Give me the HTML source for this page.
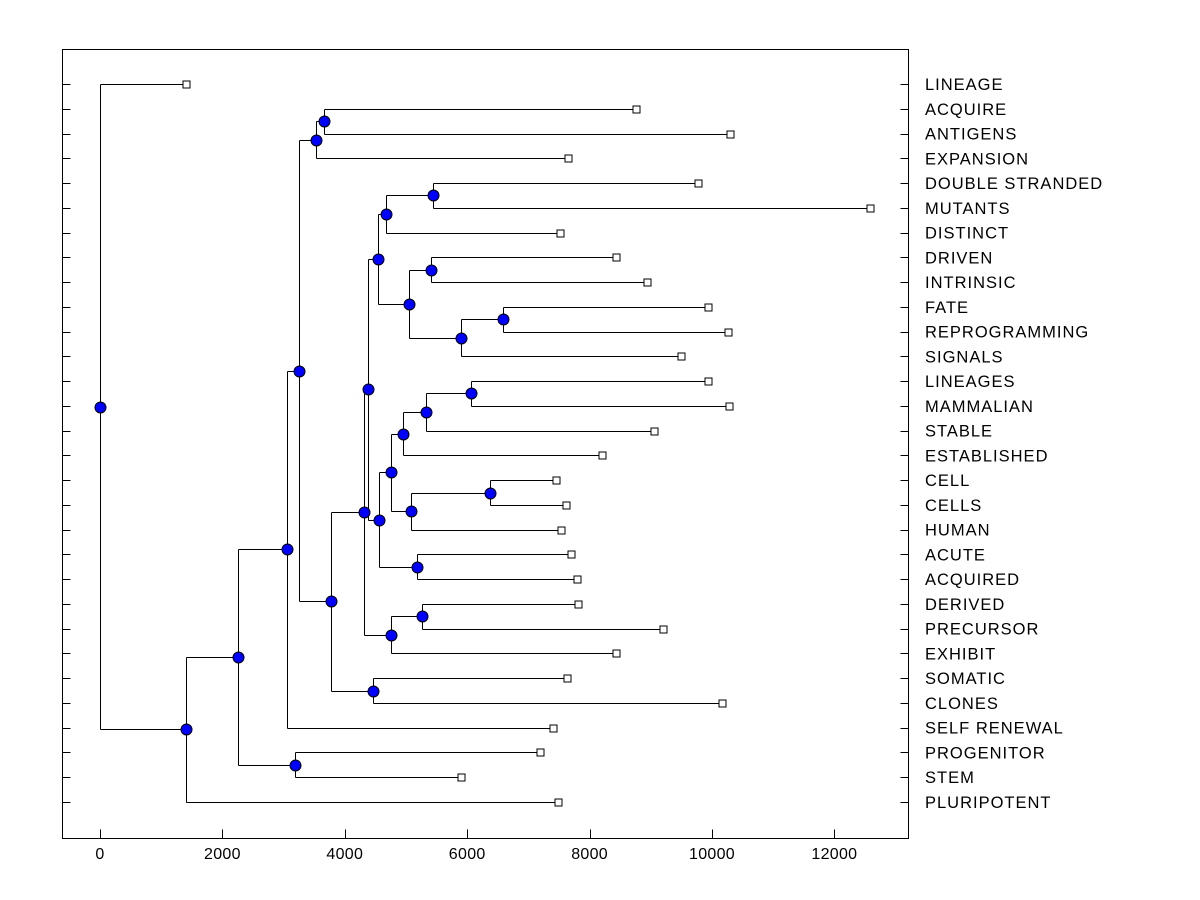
<!DOCTYPE html>
<html><head><meta charset="utf-8"><style>
body{margin:0;background:#fff}
svg{display:block;font-family:"Liberation Sans",Arial,sans-serif}
</style></head><body>
<svg id="chart" width="1200" height="900" xmlns="http://www.w3.org/2000/svg"></svg>
<script>
const leafNames=["LINEAGE","ACQUIRE","ANTIGENS","EXPANSION","DOUBLE STRANDED","MUTANTS","DISTINCT","DRIVEN","INTRINSIC","FATE","REPROGRAMMING","SIGNALS","LINEAGES","MAMMALIAN","STABLE","ESTABLISHED","CELL","CELLS","HUMAN","ACUTE","ACQUIRED","DERIVED","PRECURSOR","EXHIBIT","SOMATIC","CLONES","SELF RENEWAL","PROGENITOR","STEM","PLURIPOTENT"];
const leafValues=[1405,8758,10294,7647,9771,12582,7516,8431,8938,9935,10261,9493,9935,10278,9052,8203,7451,7614,7533,7696,7794,7810,9199,8431,7631,10163,7402,7190,5899,7484];
const nodeIds=["root","A","B","C","D","E","F","H","G","I","L","K","O","Q","P","R","S","T","M","U","W","Y","Z","X","AA","V","N","AB","J"];
const nodeHeights=[0,1405,2255,3056,3186,3252,3529,3660,3775,4314,4379,4543,4673,5441,5049,5409,5899,6585,4559,4755,4951,5327,6062,5082,6373,5180,4755,5261,4461];
const nodeLeft=["LINEAGE","B","C","E","PROGENITOR","F","H","ACQUIRE","I","L","K","O","Q","DOUBLE STRANDED","R","DRIVEN","T","FATE","U","W","Y","Z","LINEAGES","AA","CELL","ACUTE","AB","DERIVED","SOMATIC"];
const nodeRight=["A","PLURIPOTENT","D","SELF RENEWAL","STEM","G","EXPANSION","ANTIGENS","J","N","M","P","DISTINCT","MUTANTS","S","INTRINSIC","SIGNALS","REPROGRAMMING","V","X","ESTABLISHED","STABLE","MAMMALIAN","HUMAN","CELLS","ACQUIRED","EXHIBIT","PRECURSOR","CLONES"];
const xTicks=[0,2000,4000,6000,8000,10000,12000];

const svg=document.getElementById('chart');
const NS='http://www.w3.org/2000/svg';
const X0=100,SC=0.0612,Y0=84,DY=(802-84)/29;
const L=62,R=908,T=49,B=838;
const xs=v=>X0+v*SC;
const ys=i=>Y0+i*DY;
function mk(tag,attrs,parent){const e=document.createElementNS(NS,tag);for(const k in attrs)e.setAttribute(k,attrs[k]);(parent||svg).appendChild(e);return e;}
function line(x1,y1,x2,y2,p){return mk('line',{x1:Math.round(x1)+0.5,y1:Math.round(y1)+0.5,x2:Math.round(x2)+0.5,y2:Math.round(y2)+0.5,stroke:'#000','stroke-width':1},p);}

const frame=mk('rect',{x:L+0.5,y:T+0.5,width:R-L,height:B-T,fill:'none',stroke:'#000','stroke-width':1});



const axisG=mk('g',{});


xTicks.forEach(t=>{
  line(xs(t),B,xs(t),B-9,axisG);
  const tx=mk('text',{x:xs(t),y:B+21,'text-anchor':'middle','font-size':16,'letter-spacing':0.3},axisG);
  tx.textContent=t;
  
  
});

function pos(name){
  const li=leafNames.indexOf(name);
  if(li>=0)return {x:xs(leafValues[li]),y:ys(li)};
  const ni=nodeIds.indexOf(name);
  const a=pos(nodeLeft[ni]),b=pos(nodeRight[ni]);
  return {x:xs(nodeHeights[ni]),y:(a.y+b.y)/2};
}
const linkG=mk('g',{});


const dots=[];
nodeIds.forEach((id,i)=>{
  const p=pos(id),a=pos(nodeLeft[i]),b=pos(nodeRight[i]);
  line(p.x,a.y,p.x,b.y,linkG);
  line(p.x,a.y,a.x,a.y,linkG);
  line(p.x,b.y,b.x,b.y,linkG);
  dots.push(p);
});
dots.forEach(p=>{
  const c=mk('circle',{cx:Math.round(p.x)+0.5,cy:Math.round(p.y)+0.5,r:5.5,fill:'#0000ff',stroke:'#000','stroke-width':1});
  
  
});
leafNames.forEach((n,i)=>{
  const y=ys(i);
  line(L,y,L+8,y);
  line(R-8,y,R,y);
  const s=mk('rect',{x:Math.round(xs(leafValues[i]))-3,y:Math.round(y)-3,width:7,height:7,fill:'#fff',stroke:'#000','stroke-width':1});
  
  
  const t=mk('text',{x:925,y:y+6,'font-size':16.5,'letter-spacing':1});
  t.textContent=n;
  
  
});
</script>
</body></html>
